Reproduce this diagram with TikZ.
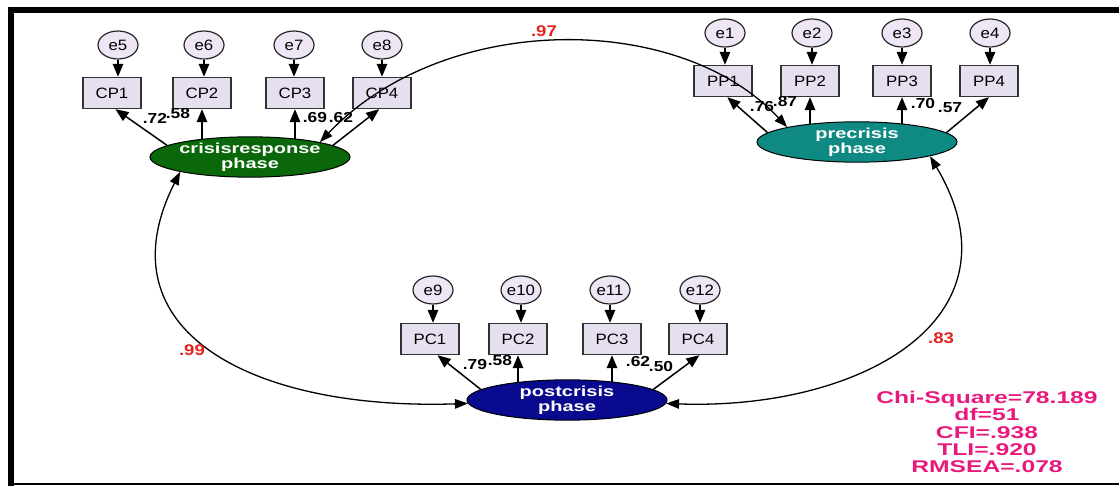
\documentclass[tikz,border=0pt]{standalone}
\usepackage{fontspec}
\setmainfont{Liberation Sans}
\newfontfamily\rgf{Liberation Sans}[FakeStretch=1.12]
\newfontfamily\bdf{Liberation Sans}[FakeStretch=1.2]
\newfontfamily\wdf{Liberation Sans}[FakeStretch=1.38]
\newfontfamily\stf{Liberation Sans}[FakeStretch=1.45]
\usetikzlibrary{shapes.geometric,arrows.meta}
\definecolor{errfill}{HTML}{EEE5F5}
\definecolor{boxfill}{HTML}{E6DFF0}
\definecolor{crisisgreen}{HTML}{0A680A}
\definecolor{preteal}{HTML}{0E8A82}
\definecolor{postnavy}{HTML}{0A0A8E}
\definecolor{redlab}{HTML}{E3231E}
\definecolor{statpink}{HTML}{E8197D}
\begin{document}
\begin{tikzpicture}[x=1pt,y=-1pt,
  errnode/.style={ellipse,draw=black!85,line width=1.2pt,fill=errfill,minimum width=40pt,minimum height=28pt,inner sep=0pt,font=\rgf\fontsize{15}{17}\selectfont},
  obs/.style={rectangle,draw=black!80,line width=1.4pt,fill=boxfill,minimum width=58pt,minimum height=31pt,inner sep=0pt,font=\rgf\fontsize{15}{17}\selectfont},
  lat/.style={ellipse,draw=black,line width=1pt,minimum width=200pt,minimum height=38pt,inner sep=0pt,text=white,align=center,font=\wdf\bfseries\fontsize{14.5}{15}\selectfont},
  arr/.style={-{Triangle[length=13pt,width=10.5pt]},line width=1.5pt},
  cov/.style={{Triangle[length=13pt,width=9.5pt]}-{Triangle[length=13pt,width=9.5pt]},line width=1.3pt},
  ld/.style={inner sep=0pt,font=\bdf\bfseries\fontsize{14.5}{16}\selectfont},
  rd/.style={inner sep=0pt,text=redlab,font=\bdf\bfseries\fontsize{15.5}{17}\selectfont},
  stat/.style={inner sep=0pt,align=center,text=statpink,font=\stf\bfseries\fontsize{17}{17.3}\selectfont}]
\useasboundingbox (0,0) rectangle (1119,486);
% frame
\fill[black] (8,7) rectangle (1119,13);
\fill[black] (8,7) rectangle (14,486);
\draw[line width=2pt] (8,484) -- (1119,484);

% crisis response group
\node[errnode] (e5) at (118,45) {e5};
\node[errnode] (e6) at (204,45) {e6};
\node[errnode] (e7) at (294,45) {e7};
\node[errnode] (e8) at (382,45) {e8};
\node[obs] (CP1) at (112,93) {CP1};
\node[obs] (CP2) at (202,93) {CP2};
\node[obs] (CP3) at (295,93) {CP3};
\node[obs] (CP4) at (382,93) {CP4};
\node[lat,fill=crisisgreen] (crisis) at (250,157) {crisisresponse\\phase};

% precrisis group
\node[errnode] (e1) at (725,33) {e1};
\node[errnode] (e2) at (812,33) {e2};
\node[errnode] (e3) at (902,33) {e3};
\node[errnode] (e4) at (990,33) {e4};
\node[obs] (PP1) at (723,81) {PP1};
\node[obs] (PP2) at (810,81) {PP2};
\node[obs] (PP3) at (902,81) {PP3};
\node[obs] (PP4) at (989,81) {PP4};
\node[lat,fill=preteal] (pre) at (857,142) {precrisis\\phase};

% postcrisis group
\node[errnode] (e9) at (433,290) {e9};
\node[errnode] (e10) at (521,290) {e10};
\node[errnode] (e11) at (610,290) {e11};
\node[errnode] (e12) at (700,290) {e12};
\node[obs] (PC1) at (430,339) {PC1};
\node[obs] (PC2) at (518,339) {PC2};
\node[obs] (PC3) at (612,339) {PC3};
\node[obs] (PC4) at (698,339) {PC4};
\node[lat,fill=postnavy] (post) at (567,400) {postcrisis\\phase};

% error arrows
\foreach \e/\b in {e5/CP1,e6/CP2,e7/CP3,e8/CP4,e1/PP1,e2/PP2,e3/PP3,e4/PP4,e9/PC1,e10/PC2,e11/PC3,e12/PC4}
  \draw[arr] (\e) -- (\e |- \b.north);

% loadings
\draw[arr] (crisis.172) -- (CP1.-78);
\draw[arr] (crisis.162 -| CP2) -- (CP2.south);
\draw[arr] (crisis.19 -| CP3) -- (CP3.south);
\draw[arr] (crisis.8) -- (CP4.-100);
\draw[arr] (pre.174) -- (PP1.-75);
\draw[arr] (pre.158 -| PP2) -- (PP2.south);
\draw[arr] (pre.21 -| PP3) -- (PP3.south);
\draw[arr] (pre.6) -- (PP4.south);
\draw[arr] (post.173) -- (PC1.-65);
\draw[arr] (post.159 -| PC2) -- (PC2.south);
\draw[arr] (post.22 -| PC3) -- (PC3.south);
\draw[arr] (post.7) -- (PC4.-85);

% loading labels
\node[ld] (l72) at (155,118) {.72};
\node[ld] (l58a) at (178,114) {.58};
\node[ld] (l69) at (315,118) {.69};
\node[ld] (l62a) at (341,118) {.62};
\node[ld] (l76) at (762,107) {.76};
\node[ld] (l87) at (785,102) {.87};
\node[ld] (l70) at (923,104) {.70};
\node[ld] (l57) at (950,108) {.57};
\node[ld] (l79) at (475,365) {.79};
\node[ld] (l58b) at (500,361) {.58};
\node[ld] (l62b) at (638,362) {.62};
\node[ld] (l50) at (661,367) {.50};

% covariances
\draw[cov] (crisis.12) .. controls +(125,-131) and +(-108,-116) .. (pre.168);
\draw[cov] (crisis.192) .. controls +(-80,159) and +(-216,7) .. (post.182);
\draw[cov] (pre.349) .. controls +(97,164) and +(192,7) .. (post.358);
\node[rd] (c97) at (544,31) {.97};
\node[rd] (c99) at (192,350) {.99};
\node[rd] (c83) at (941,338) {.83};

% fit statistics
\node[stat] (fit) at (987,432) {Chi-Square=78.189\\df=51\\CFI=.938\\TLI=.920\\RMSEA=.078};
\end{tikzpicture}
\end{document}
